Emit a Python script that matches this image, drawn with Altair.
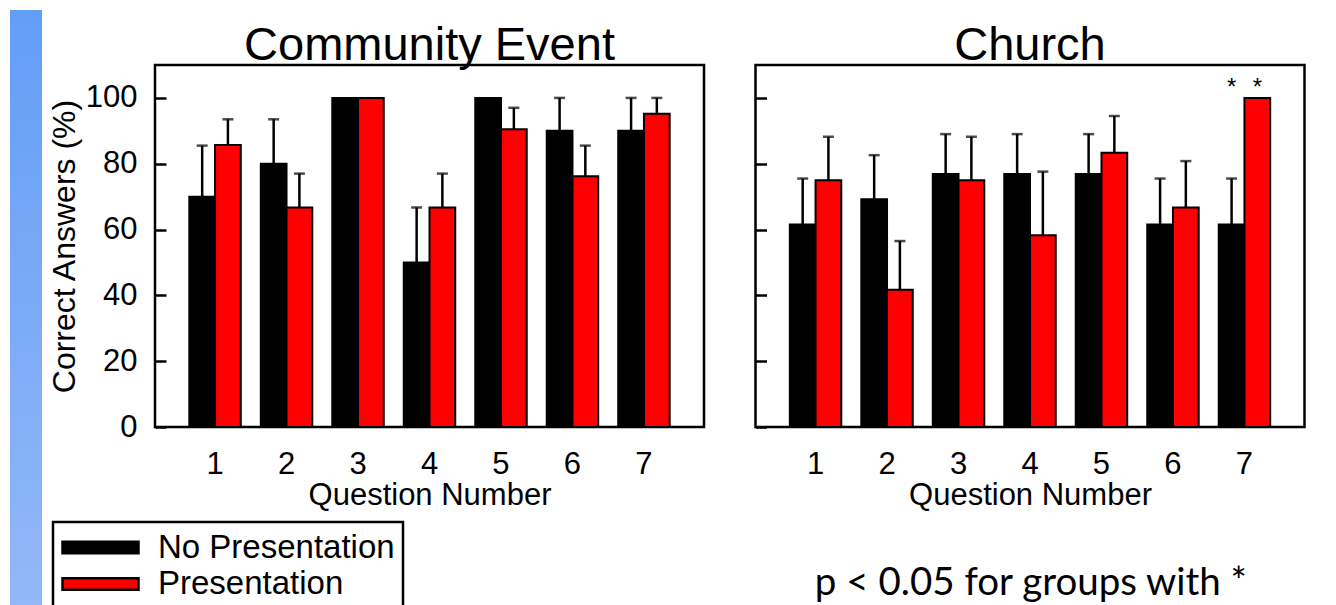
import altair as alt
import pandas as pd

questions = ["1", "2", "3", "4", "5", "6", "7"]
groups = ["No Presentation", "Presentation"]
panel_titles = ["Community Event", "Church"]

# Community Event: bar heights and top of error bars (%)
ce_no = [70, 80, 100, 50, 100, 90, 90]
ce_no_top = [85.5, 93.5, 100, 66.7, 100, 100, 100]
ce_pres = [85.7, 66.7, 100, 66.7, 90.5, 76.2, 95.2]
ce_pres_top = [93.5, 77.0, 100, 77.0, 97.0, 85.5, 100]

# Church
ch_no = [61.5, 69.2, 76.9, 76.9, 76.9, 61.5, 61.5]
ch_no_top = [75.5, 82.6, 89.0, 89.0, 89.0, 75.5, 75.5]
ch_pres = [75.0, 41.7, 75.0, 58.3, 83.3, 66.7, 100]
ch_pres_top = [88.2, 56.5, 88.2, 77.6, 94.5, 80.8, 100]

# significant groups in the Church panel
star_question = ["7", "7"]
star_group = ["No Presentation", "Presentation"]

y_ticks = [0, 20, 40, 60, 80, 100]
note = "p < 0.05 for groups with *"

FONT = "Liberation Sans"
W, H = 549, 362


def make_df(no, no_top, pres, pres_top):
    rows = []
    for i, q in enumerate(questions):
        rows.append(dict(q=q, group=groups[0], value=no[i], top=no_top[i]))
        rows.append(dict(q=q, group=groups[1], value=pres[i], top=pres_top[i]))
    return pd.DataFrame(rows)


legend = alt.Legend(
    orient="none", legendX=-102, legendY=457, title=None,
    symbolType="M-1,-0.154H1V0.154H-1Z", symbolSize=5776,
    symbolStrokeColor="black", symbolStrokeWidth=2.5,
    labelFontSize=33, labelFont=FONT, labelColor="black",
    labelOffset=18, labelLimit=400, padding=8,
    strokeColor="black", fillColor="white",
    clipHeight=35, rowPadding=1.5, symbolOffset=0,
)

color = alt.Color("group:N", sort=groups,
                  scale=alt.Scale(domain=groups, range=["#000000", "#ff0000"]),
                  legend=legend)

yscale = alt.Scale(domain=[0, 110], nice=False)


def panel(df, title, show_labels):
    yaxis = alt.Axis(
        values=y_ticks, offset=-11, tickSize=11, tickWidth=2.5, tickColor="black",
        domain=False, grid=False, labels=show_labels,
        labelFontSize=31, labelFont=FONT, labelColor="black", labelPadding=18,
        title="Correct Answers (%)" if show_labels else "",
        titleFontSize=32, titleFont=FONT, titleFontWeight="normal",
        titleColor="black", titlePadding=4,
    )
    xaxis = alt.Axis(
        labelAngle=0, ticks=False, tickSize=0, domain=False,
        labelFontSize=31, labelFont=FONT, labelColor="black", labelPadding=22,
        title="Question Number", titleFontSize=31, titleFont=FONT,
        titleFontWeight="normal", titleColor="black", titlePadding=1,
    )
    x = alt.X("q:N", sort=questions, axis=xaxis,
              scale=alt.Scale(paddingInner=0.28, paddingOuter=0.48))
    xo = alt.XOffset("group:N", sort=groups,
                     scale=alt.Scale(paddingInner=0, paddingOuter=0))
    base = alt.Chart(df)
    bars = base.mark_bar(stroke="black", strokeWidth=2).encode(
        x=x, xOffset=xo,
        y=alt.Y("value:Q", scale=yscale, axis=yaxis),
        color=color,
    )
    err = base.transform_filter("datum.top > datum.value")
    rules = err.mark_rule(color="black", strokeWidth=2.5).encode(
        x=x, xOffset=xo,
        y=alt.Y("value:Q", scale=yscale, axis=yaxis), y2="top:Q",
    )
    caps = err.mark_tick(color="black", thickness=2.5, size=11, orient="horizontal").encode(
        x=x, xOffset=xo,
        y=alt.Y("top:Q", scale=yscale, axis=yaxis),
    )
    head = alt.Chart(pd.DataFrame({"t": [title]})).mark_text(
        align="center", baseline="alphabetic", font=FONT, fontSize=47, color="black"
    ).encode(x=alt.value(W / 2), y=alt.value(-5), text="t:N")
    return [bars, rules, caps, head], x, xo


ce_df = make_df(ce_no, ce_no_top, ce_pres, ce_pres_top)
ch_df = make_df(ch_no, ch_no_top, ch_pres, ch_pres_top)

left_layers, lx, lxo = panel(ce_df, panel_titles[0], True)
strip = alt.Chart(pd.DataFrame({"a": [0]})).mark_rect(
    color=alt.Gradient(
        gradient="linear", x1=0, x2=0, y1=0, y2=1,
        stops=[alt.GradientStop(offset=0, color="#639ef6"),
               alt.GradientStop(offset=1, color="#93b8f8")],
    )
).encode(x=alt.value(-145), x2=alt.value(-113), y=alt.value(-55), y2=alt.value(540))
left = alt.layer(strip, *left_layers).properties(width=W, height=H)

right_layers, rx, rxo = panel(ch_df, panel_titles[1], False)
stars = alt.Chart(pd.DataFrame({"q": star_question, "group": star_group})).mark_text(
    text="*", fontSize=24, font=FONT, color="black", baseline="alphabetic", dy=-2.5
).encode(x=rx, xOffset=rxo, y=alt.datum(100))
note_layer = alt.Chart(pd.DataFrame({"note": [note]})).mark_text(
    align="right", baseline="alphabetic", font="Lato", fontSize=38.5, color="black"
).encode(x=alt.value(491.5), y=alt.value(530), text="note:N")
right = alt.layer(*right_layers, stars, note_layer).properties(width=W, height=H)

chart = (
    alt.hconcat(left, right, spacing=46.5)
    .resolve_scale(color="shared", y="shared")
    .properties(padding=0)
    .configure_view(stroke="black", strokeWidth=2.5)
    .configure_legend(strokeWidth=2.5, cornerRadius=0)
)

chart.save("out.html", embed_options={"renderer": "svg", "actions": False})
